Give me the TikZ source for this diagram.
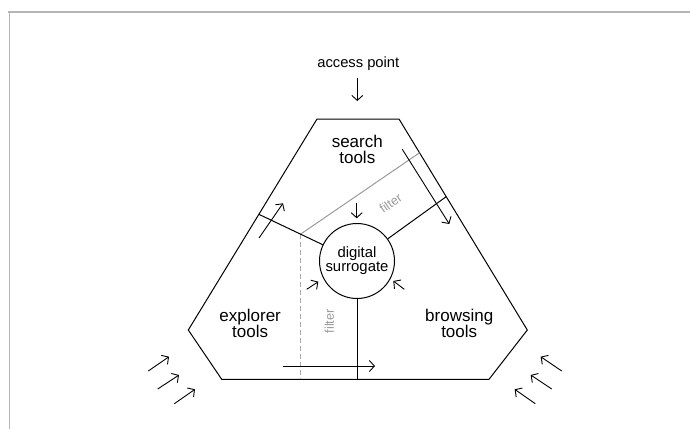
\documentclass[tikz,border=0pt]{standalone}
\usepackage{fontspec}
\setmainfont{Liberation Sans}
\usetikzlibrary{arrows.meta,calc}
\definecolor{framegray}{HTML}{B5B5B5}
\definecolor{filtergray}{HTML}{9A9A9A}
\definecolor{dashgray}{HTML}{ABABAB}
\begin{document}
\begin{tikzpicture}[x=1pt,y=-1pt,
  framel/.style={line width=1.5pt, framegray},
  edge/.style={line width=1pt, black},
  arr/.style={line width=0.9pt, -{Straight Barb[length=5pt,width=11pt]}},
  sur/.style={circle, draw, line width=1pt, minimum size=75pt, inner sep=0pt, align=center, font=\fontsize{14.9}{12.7}\selectfont},
  lab/.style={inner sep=0pt, align=center, font=\fontsize{17}{16}\selectfont},
  aplab/.style={inner sep=0pt, font=\fontsize{14.75}{16}\selectfont},
  flab/.style={inner sep=0pt, text=filtergray, font=\fontsize{12.7}{14}\selectfont},
  filterline/.style={line width=1pt, filtergray},
  filterdash/.style={line width=1.2pt, dashgray, dash pattern=on 5pt off 3pt}]
\useasboundingbox (0,0) rectangle (690,429);
% frame
\draw[framel] (8,12) -- (690,12);
\draw[framel] (9.5,12) -- (9.5,429);
% hexagon
\coordinate (A) at (317,119);
\coordinate (B) at (399,119);
\coordinate (C) at (527.3,330);
\coordinate (D) at (489,379.3);
\coordinate (E) at (221.7,379.3);
\coordinate (F) at (188.3,330);
\draw[edge, line join=miter] (A) -- (B) -- (C) -- (D) -- (E) -- (F) -- cycle;
% centre
\node[sur] (sur) at (357,261) {digital\\surrogate};
\coordinate (L1) at ($(A)!0.4517!(F)$);
\coordinate (R1) at ($(B)!0.368!(C)$);
\coordinate (G) at ($(B)!0.16!(C)$);
\coordinate (J) at ($(sur.center)!0.575!(L1)$);
\draw[filterline] (J) -- (G);
\draw[filterdash] (J) -- (J |- E);
\draw[edge] (sur) -- (L1);
\draw[edge] (sur) -- (R1);
\draw[edge] (sur) -- (sur |- E);
% labels
\node[lab] (st) at (357.3,149.4) {search\\tools};
\node[lab] (et) at (250.2,323.6) {explorer\\tools};
\node[lab] (bt) at (459.2,323.6) {browsing\\tools};
\node[aplab, anchor=base] (ap) at (358.3,67.7) {access point};
\node[flab, rotate=35] (f1) at (390.7,203.3) {filter};
\node[flab, rotate=90] (f2) at (329.3,321.3) {filter};
% arrows
\coordinate (a1s) at (357.3,78);   \coordinate (a1e) at (357.3,101);
\coordinate (a2s) at (356.7,203);  \coordinate (a2e) at (356.7,218.3);
\coordinate (a3s) at (402.3,149.3);\coordinate (a3e) at (449.3,224);
\coordinate (a4s) at (259,238);    \coordinate (a4e) at (283,203.3);
\coordinate (a5s) at (282.7,366);  \coordinate (a5e) at (375,366);
\coordinate (a6s) at (306.7,289.3);\coordinate (a6e) at (318.3,281.7);
\coordinate (a7s) at (404.3,289.3);\coordinate (a7e) at (393.3,281);
\coordinate (b1s) at (148.3,371);  \coordinate (b1e) at (169,356.7);
\coordinate (b2s) at (157.7,389);  \coordinate (b2e) at (179,375);
\coordinate (b3s) at (174.3,403.7);\coordinate (b3e) at (195,389.3);
\coordinate (c1s) at (561.7,371);  \coordinate (c1e) at (540.7,356.7);
\coordinate (c2s) at (551.7,389);  \coordinate (c2e) at (530.7,375);
\coordinate (c3s) at (535.3,403.7);\coordinate (c3e) at (514.7,389.3);
\foreach \p in {a1,a2,a3,a4,a5,a6,a7,b1,b2,b3,c1,c2,c3}
  \draw[arr] (\p s) -- (\p e);
\end{tikzpicture}
\end{document}
